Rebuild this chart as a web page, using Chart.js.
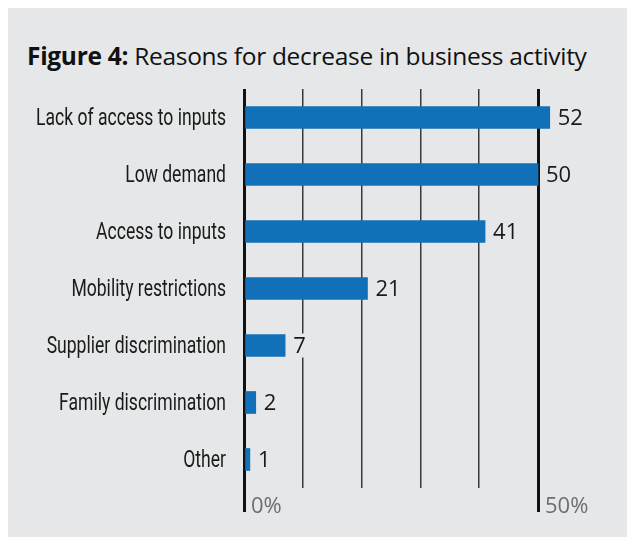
<!DOCTYPE html>
<html>
<head>
<meta charset="utf-8">
<script src="https://cdn.jsdelivr.net/npm/chart.js@4"></script>
<style>
  html, body { margin: 0; padding: 0; background: #fff; }
  #panel { position: absolute; left: 8px; top: 8px; width: 619px; height: 529px; background: #e6e7e8; }
  #title { position: absolute; left: 19px; top: 31px; font-family: "Open Sans", sans-serif; font-size: 24.5px; color: #111; white-space: nowrap; letter-spacing: -0.3px; }
  #title b { font-weight: 700; }
  #wrap { position: absolute; left: 0; top: 72px; width: 619px; height: 457px; }
</style>
</head>
<body>
<div id="panel">
  <div id="title"><b>Figure 4:</b> Reasons for decrease in business activity</div>
  <div id="wrap"><canvas id="chart"></canvas></div>
</div>
<script>
// Data
var categories = ['Lack of access to inputs', 'Low demand', 'Access to inputs', 'Mobility restrictions', 'Supplier discrimination', 'Family discrimination', 'Other'];
var values = [52, 50, 41, 21, 7, 2, 1];
var tickLabels = { 0: '0%', 50: '50%' };

const PANEL_BG = '#e6e7e8';
const BAR_COLOR = '#1270b8';
const LABEL_FONT = '23px Roboto, "Open Sans", sans-serif';
const LABEL_WIDTH = 190; // width of the longest label in the reference (condensed face)

// category labels: squeezed horizontally to mimic the condensed face
var categoryLabels = {
  id: 'categoryLabels',
  afterDraw(chart) {
    var ctx = chart.ctx;
    var yScale = chart.scales.y;
    var right = chart.chartArea.left - 18;
    ctx.save();
    ctx.font = LABEL_FONT;
    var widest = Math.max.apply(null, categories.map(function (c) { return ctx.measureText(c).width; }));
    var sx = LABEL_WIDTH / widest;
    ctx.fillStyle = '#1a1a1a';
    ctx.textAlign = 'right';
    ctx.textBaseline = 'middle';
    yScale.ticks.forEach(function (t, i) {
      var y = yScale.getPixelForTick(i);
      ctx.save();
      ctx.translate(right, y + 2);
      ctx.scale(sx, 1);
      ctx.fillText(chart.data.labels[i], 0, 0);
      ctx.restore();
    });
    ctx.restore();
  }
};

// value labels drawn next to bars, with a patch of background behind them
var valueLabels = {
  id: 'valueLabels',
  afterDatasetsDraw(chart) {
    var ctx = chart.ctx;
    var meta = chart.getDatasetMeta(0);
    ctx.save();
    ctx.font = '22px "Open Sans", sans-serif';
    ctx.textBaseline = 'middle';
    ctx.textAlign = 'left';
    meta.data.forEach(function (bar, i) {
      var txt = String(values[i]);
      var x = bar.x + 8;
      var w = ctx.measureText(txt).width;
      ctx.fillStyle = PANEL_BG;
      ctx.fillRect(x - 2, bar.y - 12, w + 4, 24);
      ctx.fillStyle = '#1a1a1a';
      ctx.fillText(txt, x, bar.y + 1);
    });
    ctx.restore();
  }
};

var isMajor = function (c) { return c.tick && (c.tick.value === 0 || c.tick.value === 50); };

var chartCtx = document.getElementById('chart').getContext('2d');
var chart = new Chart(chartCtx, {
  type: 'bar',
  data: {
    labels: categories,
    datasets: [{
      data: values,
      backgroundColor: BAR_COLOR,
      barThickness: 22,
      clip: false,
    }]
  },
  options: {
    indexAxis: 'y',
    responsive: true,
    maintainAspectRatio: false,
    animation: false,
    layout: { padding: { top: 9, right: 89, left: 0, bottom: 0 } },
    scales: {
      x: {
        min: 0,
        max: 50,
        ticks: {
          stepSize: 10,
          autoSkip: false,
          maxRotation: 0,
          align: 'start',
          labelOffset: 7,
          padding: -18,
          color: '#6d6e71',
          font: { family: '"Open Sans", sans-serif', size: 22 },
          callback: function (v) { return tickLabels[v] || ''; }
        },
        grid: {
          drawTicks: true,
          tickLength: 24,
          lineWidth: function (c) { return isMajor(c) ? 3 : 1.5; },
          color: function (c) { return isMajor(c) ? '#111' : '#3a3a3a'; },
          tickColor: function (c) { return isMajor(c) ? '#111' : 'rgba(0,0,0,0)'; },
          tickWidth: 3,
        },
        border: { display: false },
        afterFit: function (s) { s.height = 49; }
      },
      y: {
        grid: { display: false },
        border: { display: false },
        ticks: { display: false },
        afterFit: function (s) { s.width = 236; }
      }
    },
    plugins: {
      legend: { display: false },
      tooltip: { enabled: false },
      title: { display: false }
    }
  },
  plugins: [valueLabels, categoryLabels]
});
</script>
</body>
</html>
